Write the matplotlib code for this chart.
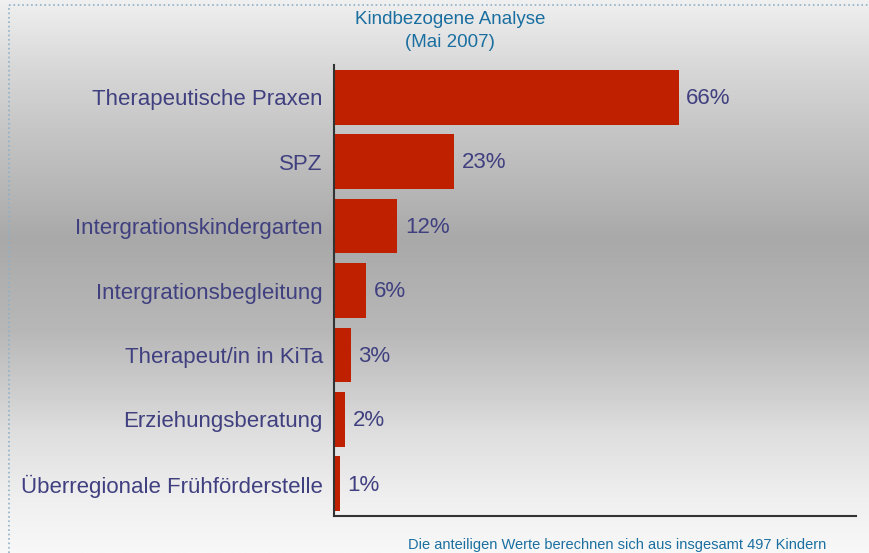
import numpy as np
import matplotlib
matplotlib.use("Agg")
import matplotlib.pyplot as plt
from matplotlib.colors import LinearSegmentedColormap

categories = ["Therapeutische Praxen", "SPZ", "Intergrationskindergarten",
              "Intergrationsbegleitung", "Therapeut/in in KiTa",
              "Erziehungsberatung", "Überregionale Frühförderstelle"]
values = [66, 23, 12.1, 6.1, 3.2, 2.1, 1.1]
value_labels = ["66%", "23%", "12%", "6%", "3%", "2%", "1%"]

plt.rcParams['font.family'] = ['Liberation Sans', 'DejaVu Sans']

fig = plt.figure(figsize=(8.7, 5.53), dpi=100)

# gray gradient background
bg = fig.add_axes([0, 0, 1, 1], zorder=0)
grad_cmap = LinearSegmentedColormap.from_list(
    "bg", [(0.0, "#f0f0f0"), (0.12, "#d8d8d8"), (0.24, "#c5c5c5"),
           (0.36, "#b4b4b4"), (0.43, "#a9a9a9"), (0.60, "#b8b8b8"),
           (0.72, "#d0d0d0"), (0.78, "#dedede"), (0.90, "#efefef"),
           (1.0, "#f8f8f8")])
bg.imshow(np.linspace(0, 1, 256).reshape(-1, 1), aspect="auto", cmap=grad_cmap,
          extent=[0, 1, 0, 1], origin="upper")
bg.plot([9 / 870, 1], [1 - 5 / 553, 1 - 5 / 553], ls=":", color="#8fb0c8", lw=1.2)
bg.plot([9 / 870, 9 / 870], [0, 1 - 5 / 553], ls=":", color="#8fb0c8", lw=1.2)
bg.set_xlim(0, 1)
bg.set_ylim(0, 1)
bg.axis("off")

ax = fig.add_axes([334 / 870, 37 / 553, 522 / 870, 451 / 553], zorder=1)
ax.patch.set_alpha(0)
y = np.arange(len(categories))
ax.barh(y, values, height=0.85, color="#bf2000")
ax.set_xlim(0, 100)
ax.set_ylim(len(categories) - 0.5, -0.5)
ax.set_yticks(y)
ax.set_yticklabels(categories, fontsize=16, color="#404080")
ax.set_xticks([])
ax.tick_params(axis="y", length=0, pad=8)
for s in ["top", "right"]:
    ax.spines[s].set_visible(False)
for s in ["left", "bottom"]:
    ax.spines[s].set_color("#333333")
    ax.spines[s].set_linewidth(1.5)

for yi, v, lab in zip(y, values, value_labels):
    ax.text(v + 1.5, yi + 0.02, lab, va="center", ha="left", fontsize=16, color="#404080")

fig.text(450 / 870, 1 - 31 / 553, "Kindbezogene Analyse\n(Mai 2007)", ha="center",
         va="center", fontsize=13.5, color="#1a6fa0", linespacing=1.5)
fig.text(617 / 870, 1 - 545 / 553, "Die anteiligen Werte berechnen sich aus insgesamt 497 Kindern",
         ha="center", va="center", fontsize=10.5, color="#1a6fa0")

fig.savefig("out.png", dpi=100)
